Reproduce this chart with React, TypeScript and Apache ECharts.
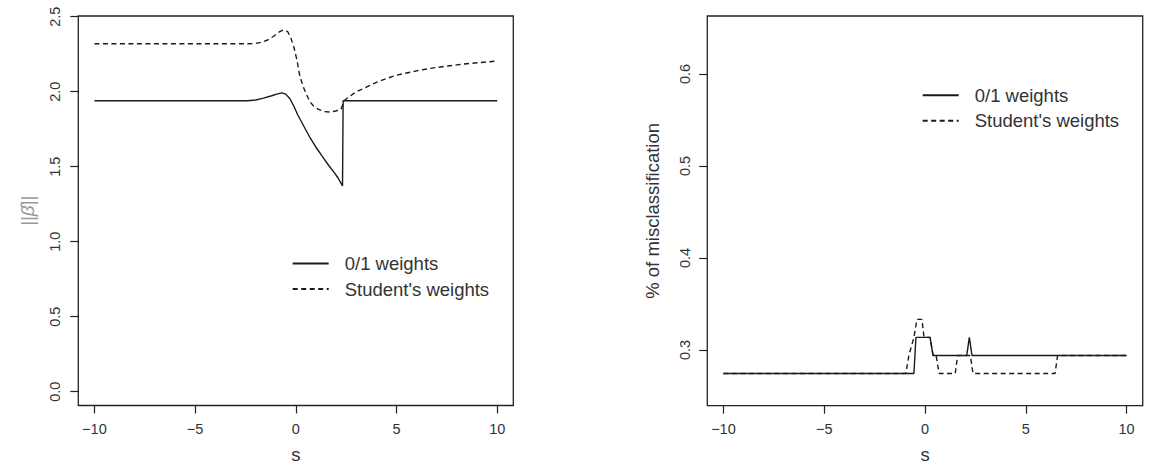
import React, { useEffect, useRef } from "react";
import * as echarts from "echarts";

// ---------- data ----------
const xTicks = [-10, -5, 0, 5, 10];
const yTicksLeft = [0, 0.5, 1.0, 1.5, 2.0, 2.5];
const yTicksRight = [0.3, 0.4, 0.5, 0.6];

// Left panel: ||beta-hat|| vs s
const sLeftSolid = [-10, -2.4, -2.0, -1.6, -1.2, -0.9, -0.7, -0.5, -0.3, -0.1, 0.1, 0.4, 0.7, 1.0, 1.3, 1.6, 1.9, 2.1, 2.32, 2.35, 10];
const vLeftSolid = [1.94, 1.94, 1.945, 1.957, 1.973, 1.986, 1.992, 1.984, 1.955, 1.905, 1.845, 1.77, 1.695, 1.63, 1.572, 1.515, 1.462, 1.425, 1.372, 1.94, 1.94];

const sLeftDashed = [-10, -2.3, -2.0, -1.7, -1.4, -1.1, -0.9, -0.7, -0.55, -0.4, -0.25, -0.1, 0.05, 0.2, 0.35, 0.5, 0.7, 0.9, 1.1, 1.4, 1.7, 2.0, 2.25, 2.4, 2.6, 3.0, 3.5, 4.0, 4.5, 5.0, 5.5, 6.0, 6.5, 7.0, 7.5, 8.0, 8.5, 9.0, 9.5, 10];
const vLeftDashed = [2.32, 2.32, 2.322, 2.33, 2.345, 2.37, 2.392, 2.408, 2.41, 2.4, 2.36, 2.3, 2.215, 2.105, 2.04, 1.99, 1.933, 1.902, 1.884, 1.868, 1.865, 1.872, 1.885, 1.94, 1.962, 2.0, 2.03, 2.063, 2.088, 2.11, 2.125, 2.139, 2.152, 2.162, 2.171, 2.179, 2.187, 2.193, 2.199, 2.205];

// Right panel: % of misclassification vs s
const sRightSolid = [-10, -0.55, -0.45, 0.25, 0.4, 2.07, 2.2, 2.33, 10];
const vRightSolid = [0.2745, 0.2745, 0.3137, 0.3137, 0.2941, 0.2941, 0.3137, 0.2941, 0.2941];

const sRightDashed = [-10, -0.95, -0.8, -0.55, -0.4, -0.3, -0.15, -0.05, 0.05, 0.25, 0.4, 0.55, 0.7, 1.5, 1.62, 2.25, 2.38, 6.45, 6.58, 10];
const vRightDashed = [0.2745, 0.2745, 0.2941, 0.3137, 0.3333, 0.3333, 0.3333, 0.3137, 0.3137, 0.3137, 0.2941, 0.2941, 0.2745, 0.2745, 0.2941, 0.2941, 0.2745, 0.2745, 0.2941, 0.2941];

const seriesNames = ["0/1 weights", "Student's weights"];

const zip = (xs: number[], ys: number[]) => xs.map((x, i) => [x, ys[i]]);

const FONT = "'Liberation Sans', Arial, sans-serif";
const LINE_COLOR = "#1a1a1a";
const TEXT_COLOR = "#333";

function xAxisCfg(gridIndex: number) {
  return {
    type: "value",
    gridIndex,
    min: -10.8,
    max: 10.8,
    name: "s",
    nameLocation: "middle",
    nameGap: 41.5,
    nameTextStyle: { fontSize: 18.5, lineHeight: 14, color: TEXT_COLOR, fontFamily: FONT },
    axisLine: { show: false, onZero: false },
    splitLine: { show: false },
    axisTick: {
      show: true,
      customValues: xTicks,
      length: 8,
      lineStyle: { color: "#222", width: 1.2 },
    },
    axisLabel: {
      show: true,
      customValues: xTicks,
      margin: 16,
      fontSize: 14.5,
      color: TEXT_COLOR,
      fontFamily: FONT,
      formatter: (v: number) => String(v).replace("-", "\u2212"),
    },
  };
}

function yAxisCfg(gridIndex: number, min: number, max: number, ticks: number[], name: string, nameGap: number, labelMargin: number, nameColor: string, rich?: any) {
  return {
    type: "value",
    gridIndex,
    min,
    max,
    name,
    nameLocation: "middle",
    nameRotate: 90,
    nameGap,
    nameTextStyle: { fontSize: 18.5, color: nameColor, fontFamily: FONT, rich },
    axisLine: { show: false, onZero: false },
    splitLine: { show: false },
    axisTick: {
      show: true,
      customValues: ticks,
      length: 8,
      lineStyle: { color: "#222", width: 1.2 },
    },
    axisLabel: {
      show: true,
      customValues: ticks,
      rotate: 90,
      margin: labelMargin,
      fontSize: 14.5,
      color: TEXT_COLOR,
      fontFamily: FONT,
      formatter: (v: number) => v.toFixed(1),
    },
  };
}

function lineSeries(name: string, xi: number, data: number[][], dashed: boolean) {
  return {
    type: "line",
    name,
    xAxisIndex: xi,
    yAxisIndex: xi,
    data,
    symbol: "none",
    showSymbol: false,
    smooth: false,
    lineStyle: {
      color: LINE_COLOR,
      width: 1.4,
      type: dashed ? [5, 3.5] : "solid",
    },
    itemStyle: { color: LINE_COLOR },
    emphasis: { disabled: true },
    silent: true,
  };
}

function legendCfg(left: number, top: number) {
  return {
    show: true,
    orient: "vertical",
    left,
    top,
    padding: 0,
    itemWidth: 36,
    itemHeight: 14,
    itemGap: 6.5,
    selectedMode: false,
    data: seriesNames,
    itemStyle: { color: "rgba(0,0,0,0)", borderWidth: 0, opacity: 0 },
    textStyle: {
      fontSize: 18.5,
      color: TEXT_COLOR,
      fontFamily: FONT,
      padding: [0, 0, 0, 11],
    },
  };
}

export default function App() {
  const ref = useRef<HTMLDivElement>(null);

  useEffect(() => {
    if (!ref.current) return;
    const chart = echarts.init(ref.current, undefined, { renderer: "svg" });
    const option: any = {
      animation: false,
      backgroundColor: "#fff",
      textStyle: { fontFamily: FONT },
      grid: [
        { left: 78.3, top: 16, width: 435, height: 389.5, show: true, borderColor: "#222", borderWidth: 1.3, backgroundColor: "transparent", containLabel: false, outerBoundsMode: "none" },
        { left: 707.3, top: 16, width: 435.4, height: 389.7, show: true, borderColor: "#222", borderWidth: 1.3, backgroundColor: "transparent", containLabel: false, outerBoundsMode: "none" },
      ],
      xAxis: [xAxisCfg(0), xAxisCfg(1)],
      yAxis: [
        yAxisCfg(0, -0.092, 2.505, yTicksLeft, "||{b|\u03B2\u0302}||", 41, 16, "#999", {
          b: { fontStyle: "italic", fontSize: 19, color: "#999", fontFamily: FONT },
        }),
        yAxisCfg(1, 0.2395, 0.663, yTicksRight, "% of misclassification", 45, 15, TEXT_COLOR),
      ],
      legend: [legendCfg(291.7, 254), legendCfg(921.7, 85.8)],
      series: [
        lineSeries(seriesNames[0], 0, zip(sLeftSolid, vLeftSolid), false),
        lineSeries(seriesNames[1], 0, zip(sLeftDashed, vLeftDashed), true),
        lineSeries(seriesNames[0], 1, zip(sRightSolid, vRightSolid), false),
        lineSeries(seriesNames[1], 1, zip(sRightDashed, vRightDashed), true),
      ],
    };
    chart.setOption(option);
    return () => chart.dispose();
  }, []);

  return (
    <div
      ref={ref}
      style={{ position: "fixed", left: 0, top: 0, width: 1158, height: 465, background: "#fff" }}
    />
  );
}
